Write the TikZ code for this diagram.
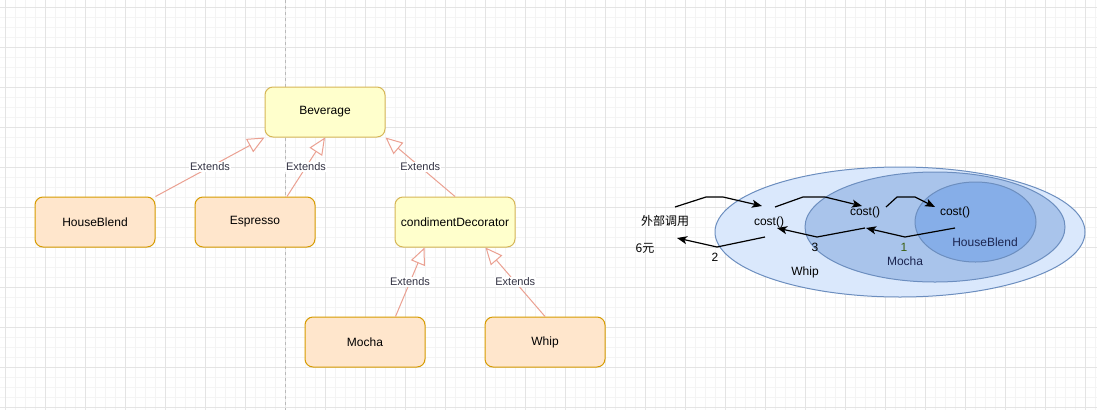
\documentclass[tikz,border=0pt]{standalone}
\usepackage{fontspec}
\setmainfont{Liberation Sans}
\newfontfamily\cjkfont{Noto Sans CJK SC}
\usetikzlibrary{arrows.meta,shapes.geometric}
\definecolor{yfill}{HTML}{FFFFCC}
\definecolor{ystroke}{HTML}{D6B656}
\definecolor{ofill}{HTML}{FFE6CC}
\definecolor{ostroke}{HTML}{D79B00}
\definecolor{edge}{HTML}{EBA192}
\definecolor{lbltext}{HTML}{333344}
\definecolor{bstroke}{HTML}{6C8EBF}
\definecolor{bouter}{HTML}{DAE8FC}
\definecolor{bmid}{HTML}{A9C4EB}
\definecolor{binner}{HTML}{86AEE8}
\definecolor{navy}{HTML}{1B2550}
\definecolor{olive}{HTML}{3B5F10}
\definecolor{gmajor}{HTML}{E4E4E4}
\definecolor{gminor}{HTML}{F4F4F4}

\begin{document}
\begin{tikzpicture}[
  x=1pt, y=-1pt, font=\fontsize{12}{14}\selectfont, >={Stealth[length=10pt, width=8pt, inset=2.5pt]},
  yel/.style={draw=ystroke, fill=yfill, line width=1pt, rounded corners=8pt,
    minimum width=120pt, minimum height=50pt, inner sep=0pt},
  ora/.style={yel, draw=ostroke, fill=ofill},
  lbl/.style={fill=white, inner sep=1pt, text=lbltext, font=\fontsize{11}{13}\selectfont},
  inherit/.style={draw=edge, line width=1pt,
    -{Triangle[open, length=17pt, width=15pt, fill=white]}},
  ring/.style={ellipse, draw=bstroke, line width=1pt, inner sep=0pt},
  txt/.style={inner sep=0pt},
  cjk/.style={inner sep=0pt, font=\cjkfont\fontsize{12}{14}\selectfont},
  call/.style={->, line width=1.2pt, line join=round},
  gridminor/.style={draw=gminor, line width=1pt},
  gridmajor/.style={draw=gmajor, line width=1pt},
]
\useasboundingbox (0,0) rectangle (1097,410);
\fill[white] (0,0) rectangle (1097,410);
% background grid and page break
\foreach \gx in {5,15,...,1095} \draw[gridminor] (\gx,0) -- (\gx,410);
\foreach \gy in {7,17,...,407} \draw[gridminor] (0,\gy) -- (1097,\gy);
\foreach \gx in {5,45,...,1085} \draw[gridmajor] (\gx,0) -- (\gx,410);
\foreach \gy in {7,47,...,407} \draw[gridmajor] (0,\gy) -- (1097,\gy);
\draw[gray!55, line width=1pt, dash pattern=on 3pt off 3pt] (285,0) -- (285,410);

% class hierarchy
\node[yel] (beverage) at (325,112) {Beverage};
\node[ora] (houseblend) at (95,222) {HouseBlend};
\node[ora] (espresso) at (255,222) {Espresso};
\node[yel] (decorator) at (455,222) {condimentDecorator};
\node[ora] (mocha) at (365,342) {Mocha};
\node[ora] (whip) at (545,342) {Whip};

\draw[inherit] (houseblend.north east) -- node[lbl, midway]{Extends} (beverage.south west);
\draw[inherit] ([xshift=32pt]espresso.north) -- node[lbl, midway]{Extends} (beverage.south);
\draw[inherit] (decorator.north) -- node[lbl, midway]{Extends} (beverage.south east);
\draw[inherit] ([xshift=-30pt]mocha.north east) -- node[lbl, midway]{Extends} ([xshift=30pt]decorator.south west);
\draw[inherit] (whip.north) -- node[lbl, midway]{Extends} ([xshift=-30pt]decorator.south east);

% wrapped objects
\node[ring, fill=bouter, minimum width=370pt, minimum height=130pt] (whipring) at (900,232) {};
\node[ring, fill=bmid, minimum width=260pt, minimum height=110pt] (mocharing) at (935,227) {};
\node[ring, fill=binner, minimum width=121pt, minimum height=80pt] (blendring) at (975.5,222) {};

\node[cjk] (caller) at (665,221) {外部调用};
\node[cjk] (price) at (645,248) {6元};
\node[txt] (costw) at (769,222) {cost()};
\node[txt] (costm) at (865,212) {cost()};
\node[txt] (costh) at (955,212) {cost()};
\node[txt, text=navy] (blendname) at (985,242) {HouseBlend};
\node[txt, text=navy] (mochaname) at (905,261) {Mocha};
\node[txt] (whipname) at (805,272) {Whip};
\node[txt, text=olive] (step1) at (904,247) {1};
\node[txt] (step3) at (815,247) {3};
\node[txt] (step2) at (715,257) {2};

% calls inward
\draw[call] ([shift={(10,-14)}]caller.center) -- ++(31,-10) -- ++(17,0) -- ([shift={(-7,-16)}]costw.center);
\draw[call] ([shift={(6,-15)}]costw.center) -- ++(28,-10) -- ++(22,0) -- ([shift={(-3,-6)}]costm.center);
\draw[call] ([shift={(21,-5)}]costm.center) -- ++(11,-10) -- ++(18,0) -- ([shift={(-20,-5)}]costh.center);
% results outward
\draw[call] ([shift={(0,16)}]costh.center) -- ++(-50,9) -- ([shift={(1,16)}]costm.center);
\draw[call] ([shift={(0,16)}]costm.center) -- ++(-48,9) -- ([shift={(8,6)}]costw.center);
\draw[call] ([shift={(-4,15)}]costw.center) -- ++(-48,10) -- ([shift={(12,17)}]caller.center);
\end{tikzpicture}
\end{document}
